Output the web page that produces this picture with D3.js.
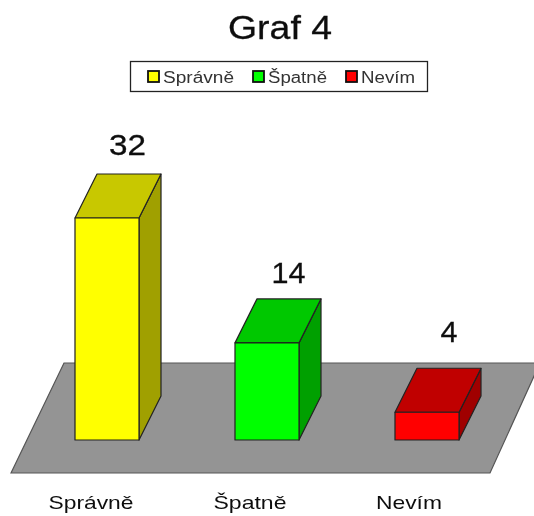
<!DOCTYPE html>
<html><head><meta charset="utf-8">
<script src="https://cdn.jsdelivr.net/npm/d3@7"></script>
<style>html,body{margin:0;background:#fff}svg{display:block}text{font-family:"Liberation Sans",Arial,sans-serif;fill:#111}</style>
</head><body><svg id="c" width="534" height="516"></svg>
<script>
const title = "Graf 4";
const categories = ["Správně", "Špatně", "Nevím"];
const values = [32, 14, 4];
const frontColors = ["#ffff00", "#00ff00", "#ff0000"];
const topColors = ["#c8c800", "#00c800", "#c00000"];
const sideColors = ["#a0a000", "#00a000", "#a00000"];

const W = 534, H = 516;
const svg = d3.select("#c").attr("viewBox", `0 0 ${W} ${H}`);
const defs = svg.append("defs");
defs.append("filter").attr("id", "soft").append("feGaussianBlur").attr("stdDeviation", 0.4);
const root = svg.append("g").attr("filter", "url(#soft)");

const x = d3.scaleBand().domain(categories).range([27, 507]).paddingInner(0.6).paddingOuter(0.3);
const y = d3.scaleLinear().domain([0, 32]).range([440, 218]);
const dx = 22, dy = -44;
const line = d3.line();
const valueGap = [19, 16, 26];
const valueShift = [20.5, 21.5, 22];
const valueWidth = [37, 34, 17];
const labelShift = [-16, -17, -18];
const labelWidth = [85, 73, 66];
const legendWidth = [71, 59, 54];

const fit = (sel, w) => sel.attr("textLength", w).attr("lengthAdjust", "spacingAndGlyphs");

// floor
root.append("path")
  .attr("d", line([[11, 473], [64, 363], [540, 363], [490, 473]]) + "Z")
  .attr("fill", "#949494").attr("stroke", "#555").attr("stroke-width", 1.2);

// bars
const bars = root.selectAll("g.bar").data(categories).join("g").attr("class", "bar");
bars.each(function (c, i) {
  const g = d3.select(this);
  const x0 = x(c), x1 = x0 + x.bandwidth(), y0 = y(0), y1 = y(values[i]);
  const cx = x0 + x.bandwidth() / 2;
  const face = (pts, fill) => g.append("path").attr("d", line(pts) + "Z")
    .attr("fill", fill).attr("stroke", "#222").attr("stroke-width", 1.2).attr("stroke-linejoin", "round");
  face([[x1, y0], [x1 + dx, y0 + dy], [x1 + dx, y1 + dy], [x1, y1]], sideColors[i]);
  face([[x0, y1], [x0 + dx, y1 + dy], [x1 + dx, y1 + dy], [x1, y1]], topColors[i]);
  face([[x0, y0], [x1, y0], [x1, y1], [x0, y1]], frontColors[i]);
  // value label
  g.append("text").attr("x", cx + valueShift[i]).attr("y", y1 + dy - valueGap[i])
    .attr("text-anchor", "middle").attr("font-size", 29).attr("stroke", "#111").attr("stroke-width", 0.3)
    .call(fit, valueWidth[i]).text(values[i]);
  // category label
  g.append("text").attr("x", cx + labelShift[i]).attr("y", 509)
    .attr("text-anchor", "middle").attr("font-size", 19).call(fit, labelWidth[i]).text(c);
});

// title
root.append("text").attr("x", 280).attr("y", 39).attr("text-anchor", "middle")
  .attr("font-size", 34).attr("stroke", "#111").attr("stroke-width", 0.3).call(fit, 104).text(title);

// legend
root.append("rect").attr("x", 130.5).attr("y", 61.5).attr("width", 297).attr("height", 30)
  .attr("fill", "#fff").attr("stroke", "#222").attr("stroke-width", 1.3);
const legendX = d3.scaleOrdinal().domain(categories).range([148, 253, 346]);
const lg = root.selectAll("g.lg").data(categories).join("g").attr("class", "lg")
  .attr("transform", c => `translate(${legendX(c)},71)`);
lg.append("rect").attr("width", 11).attr("height", 11).attr("fill", (c, i) => frontColors[i])
  .attr("stroke", "#111").attr("stroke-width", 1.8);
lg.append("text").attr("x", 15).attr("y", 11.5).attr("font-size", 16)
  .style("fill", "#333").each(function (c, i) { d3.select(this).call(fit, legendWidth[i]); }).text(c => c);
</script></body></html>
